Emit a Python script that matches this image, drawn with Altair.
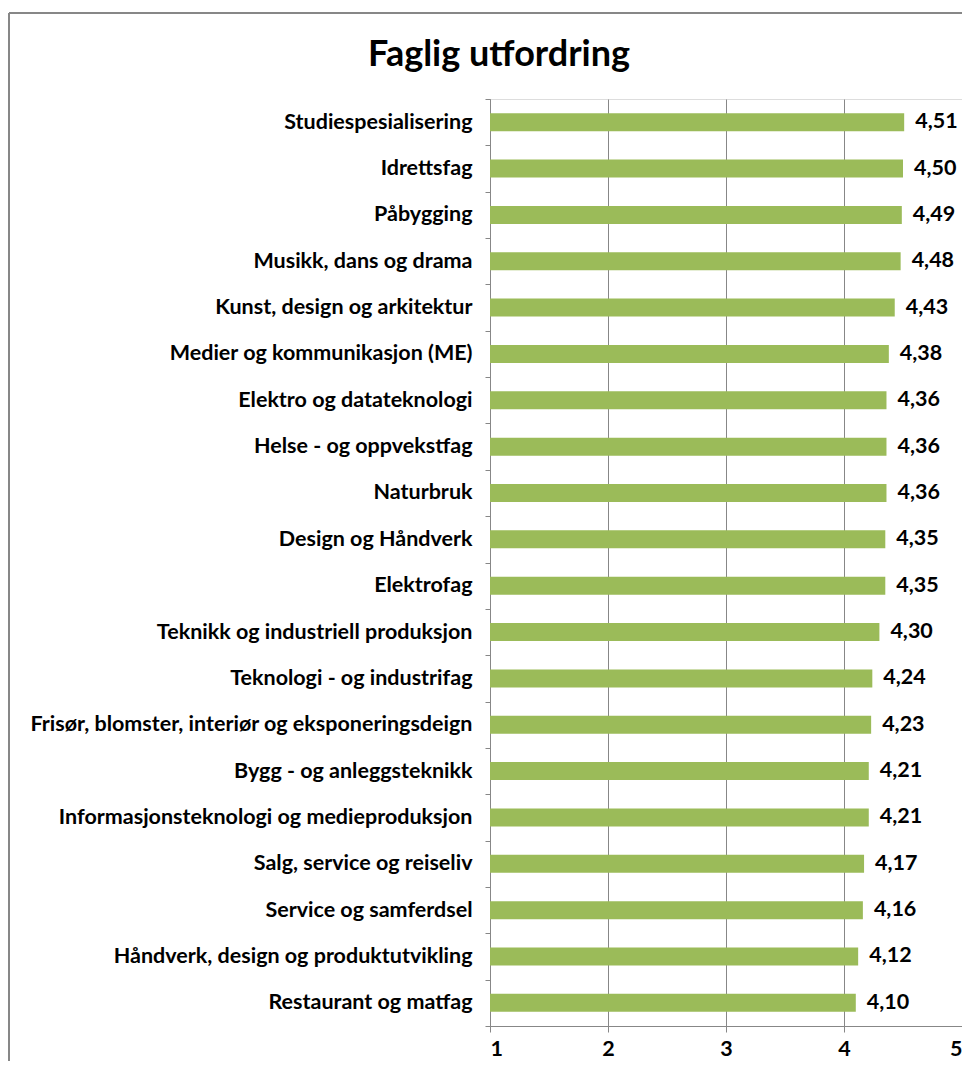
import altair as alt
import pandas as pd

categories = [
    "Studiespesialisering", "Idrettsfag", "Påbygging", "Musikk, dans og drama",
    "Kunst, design og arkitektur", "Medier og kommunikasjon (ME)",
    "Elektro og datateknologi", "Helse - og oppvekstfag", "Naturbruk",
    "Design og Håndverk", "Elektrofag", "Teknikk og industriell produksjon",
    "Teknologi - og industrifag", "Frisør, blomster, interiør og eksponeringsdeign",
    "Bygg - og anleggsteknikk", "Informasjonsteknologi og medieproduksjon",
    "Salg, service og reiseliv", "Service og samferdsel",
    "Håndverk, design og produktutvikling", "Restaurant og matfag",
]
values = [4.51, 4.50, 4.49, 4.48, 4.43, 4.38, 4.36, 4.36, 4.36, 4.35,
          4.35, 4.30, 4.24, 4.23, 4.21, 4.21, 4.17, 4.16, 4.12, 4.10]
x_ticks = [1, 2, 3, 4, 5]
title_text = "Faglig utfordring"

df = pd.DataFrame({"kategori": categories, "verdi": values})

W, H = 472, 927
FONT = "Lato"
FS = 21.5
GRAY = "#878787"

y_enc = alt.Y("kategori:N", sort=categories, title=None,
              scale=alt.Scale(paddingInner=0, paddingOuter=0),
              axis=alt.Axis(labelFont=FONT, labelFontSize=FS, labelFontWeight="bold",
                            labelColor="#000000", labelPadding=13, tickBand="extent",
                            tickSize=5, tickColor=GRAY, domainColor=GRAY,
                            labelLimit=600))
x_enc = alt.X("verdi:Q", title=None,
              scale=alt.Scale(domain=[1, 5], zero=False, nice=False),
              axis=alt.Axis(values=x_ticks, grid=True, gridColor=GRAY,
                            labelFont=FONT, labelFontSize=FS, labelFontWeight="bold",
                            labelColor="#000000", labelPadding=6, tickSize=6,
                            tickColor=GRAY, domainColor=GRAY, format="d"))

base = alt.Chart(df)

bars = base.mark_bar(color="#9BBB59", size=18).encode(
    y=y_enc, x=x_enc, x2=alt.datum(1)
)

labels = base.transform_calculate(
    txt="replace(format(datum.verdi, '.2f'), '.', ',')"
).mark_text(align="left", baseline="middle", dx=11, font=FONT, fontSize=FS,
            fontWeight="bold", color="#000000").encode(
    y=alt.Y("kategori:N", sort=categories),
    x=alt.X("verdi:Q"),
    text="txt:N",
)

one = base.transform_filter("datum.kategori == 'Naturbruk'")

title = one.mark_text(align="center", baseline="alphabetic", font=FONT, fontSize=36,
                      fontWeight="bold", color="#000000").encode(
    x=alt.value(9), y=alt.value(-33), text=alt.value(title_text)
)

border_top = one.mark_rule(color=GRAY, strokeWidth=2).encode(
    x=alt.value(-481), x2=alt.value(W + 200), y=alt.value(-86)
)
border_left = one.mark_rule(color=GRAY, strokeWidth=2).encode(
    x=alt.value(-481), y=alt.value(-86), y2=alt.value(H + 200)
)

chart = alt.layer(bars, labels, title, border_top, border_left).properties(
    width=W, height=H,
    autosize=alt.AutoSizeParams(type="none"),
    padding={"left": 482, "top": 91, "right": 0, "bottom": 35},
).configure_view(stroke=None).configure(background="white")

chart.save("out.html", embed_options={"renderer": "svg", "actions": False})
